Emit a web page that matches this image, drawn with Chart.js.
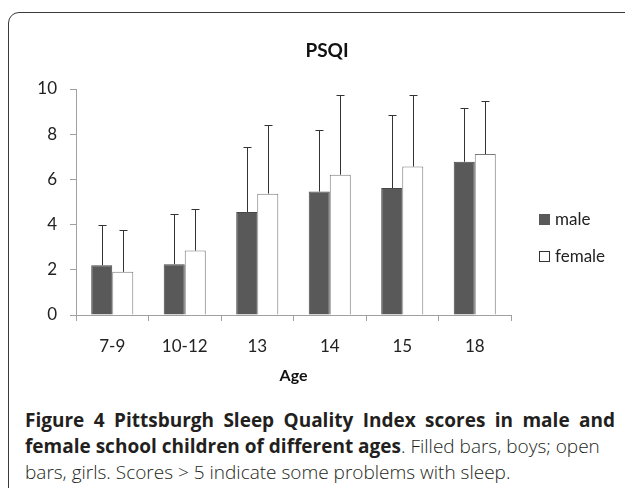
<!DOCTYPE html>
<html>
<head>
<meta charset="utf-8">
<script src="https://cdn.jsdelivr.net/npm/chart.js@4/dist/chart.umd.min.js"></script>
<style>
  body { margin: 0; width: 625px; height: 488px; overflow: hidden; background: #fff; position: relative; }
  #frame { position: absolute; left: 8px; top: 12px; width: 700px; height: 600px;
           border: 1.5px solid #3a3a3a; border-radius: 11px; }
  #chartWrap { position: absolute; left: 0; top: 0; width: 625px; height: 395px; }
  #legend { position: absolute; left: 539px; top: 208px; font-family: Lato, sans-serif; font-size: 17px; color: #222; }
  #legend div { height: 37px; display: flex; align-items: flex-start; }
  #legend span.box { display: inline-block; width: 11px; height: 11px; box-sizing: border-box; margin-top: 6px; margin-right: 5px; }
  #caption { position: absolute; left: 25px; top: 407px; width: 590px; font-family: "Open Sans", sans-serif;
             font-size: 19px; line-height: 26px; color: #231f20; font-weight: 300; }
  #caption div { white-space: nowrap; }
  #caption .l1 { text-align: justify; text-align-last: justify; white-space: normal; }
  #caption b { font-weight: 700; }
</style>
</head>
<body>
<div id="frame"></div>
<div id="chartWrap"><canvas id="psqi" width="625" height="395"></canvas></div>
<div id="legend"></div>
<div id="caption">
  <div class="l1"><b>Figure 4 Pittsburgh Sleep Quality Index scores in male and</b></div>
  <div><b>female school children of different ages</b>. Filled bars, boys; open</div>
  <div>bars, girls. Scores &gt; 5 indicate some problems with sleep.</div>
</div>
<script>
let edades = ['7-9', '10-12', '13', '14', '15', '18'];
let psqiMale = [2.2, 2.25, 4.56, 5.46, 5.62, 6.78];
let psqiFemale = [1.91, 2.85, 5.37, 6.21, 6.57, 7.12];
let sdMale = [1.77, 2.24, 2.89, 2.73, 3.23, 2.38];
let sdFemale = [1.87, 1.82, 3.02, 3.52, 3.16, 2.33];
let yTicks = [0, 2, 4, 6, 8, 10];

// error bars only upwards, like the excel original
const errorBars = {
    id: 'errorBars',
    afterDatasetsDraw(chart) {
        const ctx = chart.ctx;
        const yScale = chart.scales.y;
        ctx.save();
        ctx.strokeStyle = '#333';
        ctx.lineWidth = 1;
        chart.data.datasets.forEach((ds, i) => {
            const meta = chart.getDatasetMeta(i);
            meta.data.forEach((bar, j) => {
                const x = Math.round(bar.x) + 0.5;
                const yTop = Math.round(yScale.getPixelForValue(ds.data[j] + ds.sd[j])) + 0.5;
                ctx.beginPath();
                ctx.moveTo(x, bar.y);
                ctx.lineTo(x, yTop);
                ctx.moveTo(x - 4, yTop);
                ctx.lineTo(x + 4, yTop);
                ctx.stroke();
            });
        });
        ctx.restore();
    }
};

const chartPsqi = new Chart(document.getElementById('psqi'), {
    type: 'bar',
    data: {
        labels: edades,
        datasets: [{
            label: 'male',
            data: psqiMale,
            sd: sdMale,
            backgroundColor: '#595959',
            borderColor: '#474747',
            borderWidth: 1,
        }, {
            label: 'female',
            data: psqiFemale,
            sd: sdFemale,
            backgroundColor: '#ffffff',
            borderColor: '#7a7a7a',
            borderWidth: 1,
        }]
    },
    options: {
        responsive: false,
        animation: false,
        layout: { padding: { left: 29, right: 0, top: 0, bottom: 9.4 } },
        datasets: { bar: { categoryPercentage: 0.58, barPercentage: 1.0 } },
        plugins: {
            legend: { display: false },
            tooltip: { enabled: false },
            title: {
                display: true,
                text: 'PSQI',
                color: '#111',
                font: { family: 'Lato', size: 19, weight: 'bold' },
                padding: { top: 39.6, bottom: 26.6 }
            }
        },
        scales: {
            x: {
                afterFit: (scale) => { scale.height = 70.6; },
                grid: { drawOnChartArea: false, drawTicks: true, tickLength: 6, color: '#a0a0a0' },
                border: { color: '#a0a0a0' },
                ticks: { color: '#222', font: { family: 'Lato', size: 17 }, padding: 15 },
                title: {
                    display: true,
                    text: 'Age',
                    color: '#111',
                    font: { family: 'Lato', size: 16, weight: 'bold' },
                    padding: { top: 0, bottom: 0 }
                }
            },
            y: {
                min: 0,
                max: 10,
                afterFit: (scale) => { scale.width = 47; },
                afterBuildTicks: (scale) => { scale.ticks = yTicks.map(v => ({ value: v })); },
                grid: { drawOnChartArea: false, drawTicks: true, tickLength: 6, color: '#a0a0a0' },
                border: { color: '#a0a0a0' },
                ticks: { color: '#222', font: { family: 'Lato', size: 17 }, padding: 13 }
            },
            // empty space on the right where the legend goes
            hueco: {
                type: 'linear',
                position: 'right',
                afterFit: (scale) => { scale.width = 114; },
                grid: { display: false },
                border: { display: false },
                ticks: { display: false }
            }
        }
    },
    plugins: [errorBars]
});

// legend hecha a mano
const legendDiv = document.getElementById('legend');
chartPsqi.data.datasets.forEach((ds) => {
    let fila = document.createElement('div');
    let box = document.createElement('span');
    box.className = 'box';
    box.style.background = ds.backgroundColor;
    box.style.border = ds.backgroundColor === '#ffffff' ? '1px solid #333' : 'none';
    fila.appendChild(box);
    fila.appendChild(document.createTextNode(ds.label));
    legendDiv.appendChild(fila);
});
</script>
</body>
</html>
